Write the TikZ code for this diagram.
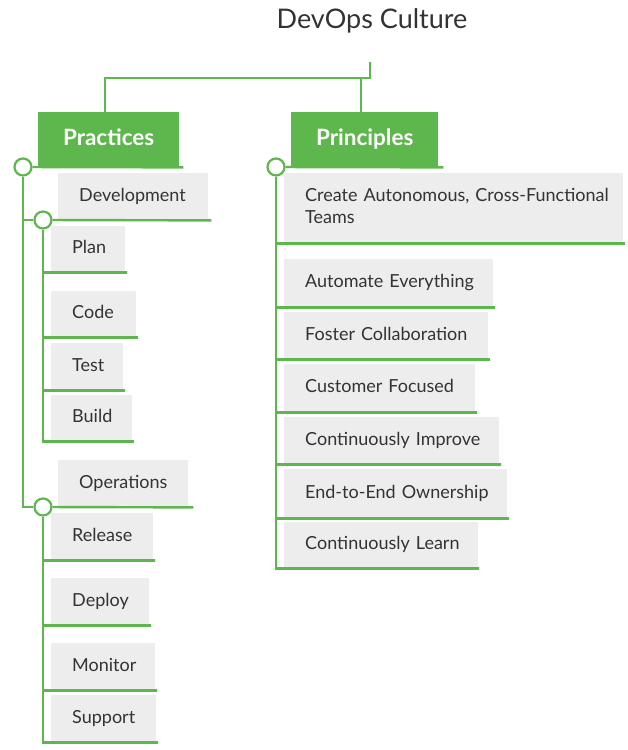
\documentclass[tikz,border=0pt]{standalone}
\usepackage{fontspec}
\setmainfont{Lato}
\usepackage{xcolor}
\usetikzlibrary{calc,positioning}
\definecolor{devgreen}{RGB}{94,183,77}
\definecolor{boxgray}{RGB}{237,237,237}
\definecolor{txtgray}{RGB}{51,51,51}

\begin{document}
\begin{tikzpicture}[x=1pt, y=-1pt,
  head/.style={fill=devgreen, text=white, font=\fontsize{22.5}{26}\selectfont\bfseries, anchor=north west, inner sep=0pt, minimum width=#1, minimum height=55, text height=16, text depth=5},
  item/.style 2 args={fill=boxgray, text=txtgray, font=\fontsize{18}{22}\selectfont, anchor=north west, inner sep=0pt, text width=#1, minimum height=#2, align=left, execute at begin node={\leftskip=21pt\strut}, execute at end node={\strut}},
  conn/.style={draw=devgreen, line width=2.4pt},
  knob/.style={circle, draw=devgreen, fill=white, line width=2.2pt, minimum size=17, inner sep=0pt}]
\useasboundingbox (0,0) rectangle (627,750);
\node[font=\fontsize{27}{32}\selectfont, text=txtgray, anchor=base] (title) at (372,28) {DevOps Culture};
\coordinate (root) at (370,62);
\coordinate (hub) at (370,78);
\node[head=141] (prac) at (38,112) {Practices};
\node[head=147] (prin) at (291,112) {Principles};
\draw[conn] (root) -- (hub) -| ([xshift=-4]prac.north);
\draw[conn] ([xshift=-4]prin.north) -- ([xshift=-4]prin.north |- hub);
% practices
\node[item={150}{47}] (dev) at (58,173) {Development};
\node[item={74}{46}] (plan) at (51,226) {Plan};
\node[item={85}{46}] (code) at (51,291) {Code};
\node[item={72}{47}] (test) at (51,343) {Test};
\node[item={81}{46}] (build) at (51,395) {Build};
\node[item={130}{47}] (ops) at (58,460) {Operations};
\node[item={102}{47}] (release) at (51,513) {Release};
\node[item={98}{47}] (deploy) at (51,578) {Deploy};
\node[item={104}{47}] (monitor) at (51,643) {Monitor};
\node[item={105}{47}] (support) at (51,695) {Support};
\node[knob] (pknob) at (23,167) {};
\node[knob] (dknob) at (43,220) {};
\node[knob] (oknob) at (43,507) {};
\draw[conn] (pknob) -- ([xshift=4]prac.south east);
\draw[conn] (pknob) -- (pknob |- oknob) -- (oknob);
\draw[conn] (pknob |- dknob) -- (dknob);
\draw[conn] (dknob) -- ([xshift=3]dev.south east);
\draw[conn] (oknob) -- ([xshift=5]ops.south east);
\draw[conn] (dknob) -- (dknob |- build.south) -- ([xshift=2]build.south east);
\draw[conn] (oknob) -- (oknob |- support.south) -- ([xshift=2]support.south east);
\foreach \n in {plan,code,test,release,deploy,monitor}
  \draw[conn] (dknob |- \n.south) -- ([xshift=2]\n.south east);
% principles
\node[item={339}{70}] (create) at (284,173) {Create Autonomous, Cross-Functional\\Teams};
\node[item={209}{48}] (auto) at (284,259) {Automate Everything};
\node[item={204}{47}] (foster) at (284,312) {Foster Collaboration};
\node[item={191}{48}] (cust) at (284,364) {Customer Focused};
\node[item={215}{47}] (impr) at (284,417) {Continuously Improve};
\node[item={223}{49}] (owner) at (284,469) {End-to-End Ownership};
\node[item={194}{46}] (learn) at (284,522) {Continuously Learn};
\node[knob] (rknob) at (276,167) {};
\draw[conn] (rknob) -- ([xshift=5]prin.south east);
\draw[conn] (rknob) -- (rknob |- learn.south) -- ([xshift=1]learn.south east);
\foreach \n in {create,auto,foster,cust,impr,owner}
  \draw[conn] (rknob |- \n.south) -- ([xshift=2]\n.south east);
\end{tikzpicture}
\end{document}
